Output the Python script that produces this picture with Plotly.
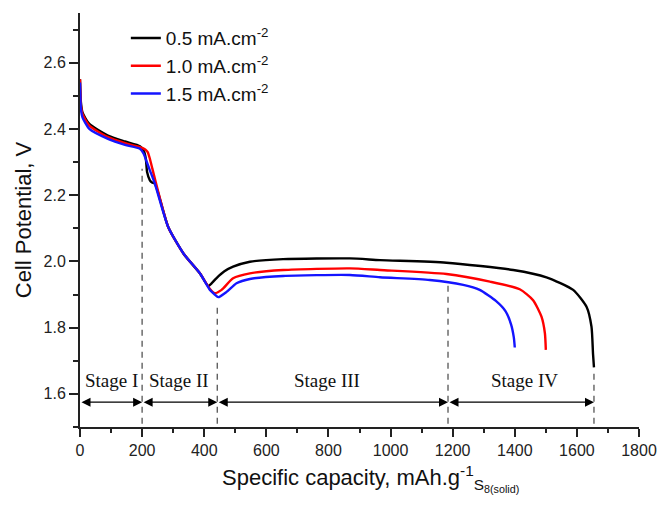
import plotly.graph_objects as go

# ---- data ----
cap_05 = [0, 3, 8, 30, 90, 145, 193, 205, 212, 216, 225, 232, 241, 284, 333, 386, 413,
          425, 439, 465, 493, 547, 654, 869, 966, 1180, 1395, 1502, 1588, 1631, 1647, 1652, 1655]
v_05 = [2.55, 2.48, 2.45, 2.415, 2.38, 2.362, 2.348, 2.335, 2.31, 2.27, 2.245, 2.238, 2.235,
        2.104, 2.024, 1.964, 1.926, 1.935, 1.949, 1.970, 1.984, 1.999, 2.007, 2.009, 2.004,
        1.996, 1.974, 1.952, 1.914, 1.863, 1.803, 1.72, 1.68]

cap_10 = [0, 3, 8, 30, 90, 145, 193, 210, 218, 225, 233, 241, 284, 333, 386, 420, 434,
          456, 493, 547, 654, 869, 966, 1180, 1320, 1416, 1459, 1486, 1497, 1500]
v_10 = [2.55, 2.47, 2.445, 2.41, 2.375, 2.357, 2.345, 2.338, 2.33, 2.31, 2.28, 2.25,
        2.104, 2.024, 1.964, 1.915, 1.904, 1.914, 1.949, 1.964, 1.974, 1.979, 1.974,
        1.962, 1.939, 1.916, 1.883, 1.833, 1.783, 1.733]

cap_15 = [0, 3, 8, 30, 90, 145, 193, 205, 215, 225, 241, 284, 333, 386, 420, 434, 445,
          472, 504, 547, 654, 869, 966, 1126, 1234, 1287, 1340, 1370, 1388, 1397, 1400]
v_15 = [2.54, 2.46, 2.435, 2.40, 2.37, 2.352, 2.34, 2.325, 2.30, 2.275, 2.235, 2.104,
        2.024, 1.964, 1.912, 1.900, 1.892, 1.908, 1.934, 1.947, 1.956, 1.959, 1.952,
        1.944, 1.929, 1.914, 1.88, 1.85, 1.81, 1.77, 1.74]

series_names = ["0.5 mA.cm<sup>-2</sup>", "1.0 mA.cm<sup>-2</sup>", "1.5 mA.cm<sup>-2</sup>"]
series_colors = ["#000000", "#ff0000", "#1414ff"]

stage_bounds = [0, 200, 442, 1185, 1655]
stage_dash_top = [None, 2.28, 1.875, 1.93, 1.67]
stage_labels = ["Stage I", "Stage II", "Stage III", "Stage IV"]
stage_label_x = [100, 318, 795, 1430]
arrow_v = 1.575
label_v = 1.640
dash_bottom = 1.51

x_title = "Specific capacity, mAh.g<sup>-1</sup><sub>S<sub>8(solid)</sub></sub>"
y_title = "Cell Potential, V"

fig = go.Figure()
for xs, ys, name, col in zip([cap_05, cap_10, cap_15], [v_05, v_10, v_15],
                             series_names, series_colors):
    fig.add_trace(go.Scatter(x=xs, y=ys, mode="lines", name=name,
                             line=dict(color=col, width=2.4, shape="spline", smoothing=0.6)))

# dashed stage boundaries
for xb, top in zip(stage_bounds, stage_dash_top):
    if top is None:
        continue
    fig.add_shape(type="line", xref="x", yref="y", x0=xb, x1=xb, y0=dash_bottom, y1=top,
                  line=dict(color="#555555", width=1.3, dash="6px,5px"))

# double-headed arrows
for a, b in zip(stage_bounds[:-1], stage_bounds[1:]):
    fig.add_annotation(x=b, y=arrow_v, ax=a, ay=arrow_v, xref="x", yref="y",
                       axref="x", ayref="y", text="", showarrow=True,
                       arrowhead=2, startarrowhead=2, arrowside="end+start",
                       arrowsize=1.5, startarrowsize=1.5, arrowwidth=1.2,
                       arrowcolor="#000000", standoff=0, startstandoff=0)

for lab, lx in zip(stage_labels, stage_label_x):
    fig.add_annotation(x=lx, y=label_v, xref="x", yref="y", text=lab, showarrow=False,
                       font=dict(family="Liberation Serif", size=19, color="#111111"))

# x-axis title as annotation (positioned like the reference)
fig.add_annotation(x=0.25, y=-0.125, xref="paper", yref="paper", xanchor="left",
                   yanchor="middle", text=x_title, showarrow=False,
                   font=dict(family="Liberation Sans", size=22, color="#111111"))

axis_common = dict(showline=True, linewidth=2, linecolor="#222222", ticks="outside",
                   tickcolor="#222222", tickwidth=1.5, showgrid=False, zeroline=False,
                   tickfont=dict(family="Liberation Sans", size=16, color="#222222"),
                   mirror=False, automargin=False)

fig.update_xaxes(range=[0, 1800], dtick=200, tick0=0, ticklen=8,
                 minor=dict(dtick=100, ticklen=4, ticks="outside", tickcolor="#222222", tickwidth=1.5),
                 **axis_common)
fig.update_yaxes(range=[1.5, 2.75], dtick=0.2, tick0=0, ticklen=9, tickformat=".1f",
                 minor=dict(dtick=0.1, ticklen=5, ticks="outside", tickcolor="#222222", tickwidth=1.5),
                 title=dict(text=y_title,
                            font=dict(family="Liberation Sans", size=22, color="#111111"),
                            standoff=6),
                 **axis_common)

fig.update_layout(width=658, height=505, margin=dict(l=80, r=19, t=13, b=78),
                  plot_bgcolor="white", paper_bgcolor="white",
                  legend=dict(x=0.082, y=0.985, xanchor="left", yanchor="top",
                              bgcolor="rgba(0,0,0,0)", tracegroupgap=0,
                              font=dict(family="Liberation Sans", size=19, color="#111111")),
                  showlegend=True)

# remove the browser's default page margin so the figure fills the window exactly
fig.write_html("out.html", config={"displayModeBar": False},
               post_script="document.body.style.margin='0';document.body.style.overflow='hidden';")
